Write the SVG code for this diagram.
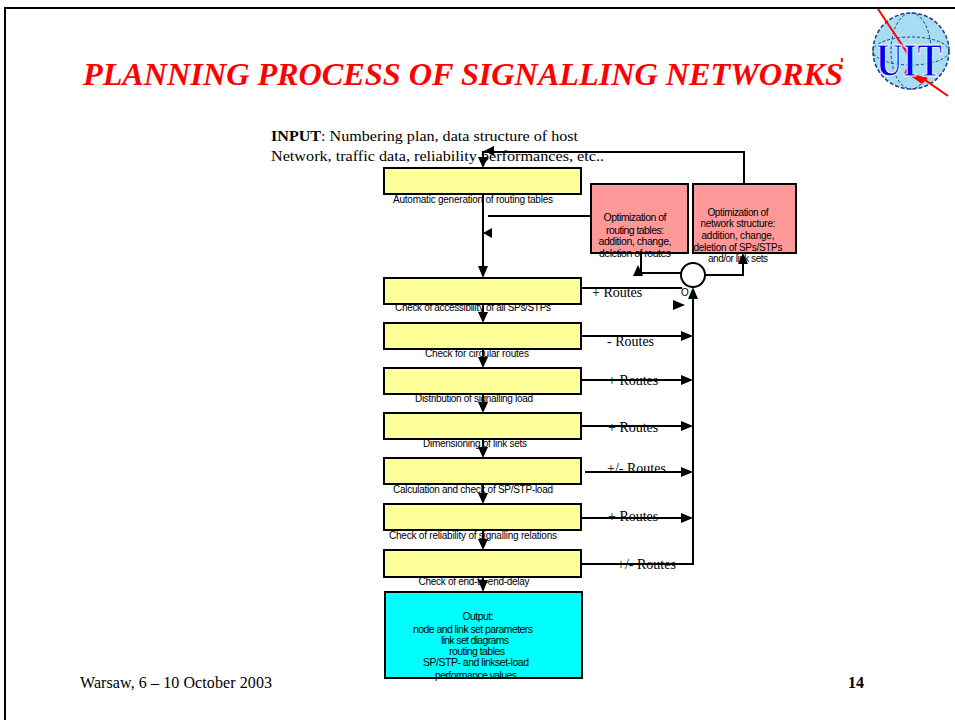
<svg xmlns="http://www.w3.org/2000/svg" width="955" height="720" viewBox="0 0 955 720">
<style>
.box{stroke:#000;stroke-width:2}
.y{fill:#ffff99}
.p{fill:#ff9999}
.c{fill:#00ffff}
.lbl{font-family:"Liberation Sans",Arial,sans-serif;font-size:10px;fill:#000;text-anchor:middle}
.bt{font-family:"Liberation Sans",Arial,sans-serif;font-size:10.5px;fill:#000;text-anchor:middle}
.bs{font-family:"Liberation Sans",Arial,sans-serif;font-size:10px;fill:#000;text-anchor:middle}
.rt{font-family:"Liberation Serif","Times New Roman",serif;font-size:14px;fill:#000}
.ln{fill:none;stroke:#000;stroke-width:2}
.ah{fill:#000}
</style>
<rect x="0" y="0" width="955" height="720" fill="#fff"/>
<path d="M5,720 V8 H955" fill="none" stroke="#000" stroke-width="2"/>
<text x="83" y="85" font-family="'Liberation Serif','Times New Roman',serif" font-size="32" font-weight="bold" font-style="italic" fill="#ff0000" textLength="760" lengthAdjust="spacingAndGlyphs">PLANNING PROCESS OF SIGNALLING NETWORKS</text>
<g id="logo">
<circle cx="911" cy="51" r="38" fill="#a8dcf0" stroke="#1a3a8a" stroke-width="1.5" stroke-dasharray="4 2"/>
<ellipse cx="911" cy="51" rx="20" ry="38" fill="none" stroke="#1a3a8a" stroke-width="1" stroke-dasharray="3 2"/>
<ellipse cx="911" cy="51" rx="38" ry="14" fill="none" stroke="#1a3a8a" stroke-width="1" stroke-dasharray="3 2"/>
<path d="M878,9 L912,60 L905,74 L925,80 L948,96" fill="none" stroke="#ff0000" stroke-width="2"/>
<polygon points="905,72 928,78 922,84" fill="#ff0000"/>
<text x="876" y="76" font-family="'Liberation Serif','Times New Roman',serif" font-size="46" font-weight="bold" fill="#0000ee" stroke="#fff" stroke-width="1" textLength="66" lengthAdjust="spacingAndGlyphs">UIT</text>
<line x1="842" y1="58" x2="841" y2="72" stroke="#ff0000" stroke-width="2" stroke-dasharray="4 3"/>
</g>
<g id="input">
<text x="271" y="141" font-family="'Liberation Serif','Times New Roman',serif" font-size="15.5" fill="#000" textLength="307" lengthAdjust="spacingAndGlyphs"><tspan font-weight="bold">INPUT</tspan>: Numbering plan, data structure of host</text>
<text x="271" y="161" font-family="'Liberation Serif','Times New Roman',serif" font-size="15.5" fill="#000" textLength="333" lengthAdjust="spacingAndGlyphs">Network, traffic data, reliability performances, etc..</text>
</g>
<g id="connectors">
<path class="ln" d="M744,184 V152 H483 V160"/>
<polygon class="ah" points="484,151 494,146 494,156"/>
<polygon class="ah" points="483,168 478,157 488,157"/>
<path class="ln" d="M591,216 H488"/>
<polygon class="ah" points="483,233 492,228 492,238"/>
<path class="ln" d="M483,194 V268"/><polygon class="ah" points="483,278 478,266 488,266"/>
<path class="ln" d="M483,304 V313"/><polygon class="ah" points="483,323 478,312 488,312"/>
<path class="ln" d="M483,349 V358"/><polygon class="ah" points="483,368 478,357 488,357"/>
<path class="ln" d="M483,394 V403"/><polygon class="ah" points="483,413 478,402 488,402"/>
<path class="ln" d="M483,439 V448"/><polygon class="ah" points="483,458 478,447 488,447"/>
<path class="ln" d="M483,484 V494"/><polygon class="ah" points="483,504 478,493 488,493"/>
<path class="ln" d="M483,530 V540"/><polygon class="ah" points="483,550 478,539 488,539"/>
<path class="ln" d="M483,577 V582"/><polygon class="ah" points="483,592 478,580 488,580"/>
<path class="ln" d="M581,288 H682"/>
<polygon class="ah" points="685,305 673,300 673,310"/>
<path class="ln" d="M581,336 H683"/><polygon class="ah" points="693,336 681,331 681,341"/>
<path class="ln" d="M581,380 H683"/><polygon class="ah" points="693,380 681,375 681,385"/>
<path class="ln" d="M581,426 H683"/><polygon class="ah" points="693,426 681,421 681,431"/>
<path class="ln" d="M585,472 H683"/><polygon class="ah" points="693,472 681,467 681,477"/>
<path class="ln" d="M581,518 H683"/><polygon class="ah" points="693,518 681,513 681,523"/>
<path class="ln" d="M581,564 H693 V298"/>
<polygon class="ah" points="693,287 688,299 698,299"/>
<path class="ln" d="M681,273 H641 V253"/>
<polygon class="ah" points="638,265 633,276 643,276"/>
<path class="ln" d="M705,275 H743 V262"/>
<polygon class="ah" points="743,253 738,264 748,264"/>
</g>
<g id="n1"><rect class="box y" x="384" y="168" width="197" height="26"/><text class="lbl" x="473" y="203" textLength="160">Automatic generation of routing tables</text></g>
<g id="n2"><rect class="box y" x="384" y="278" width="197" height="26"/><text class="lbl" x="473" y="311" textLength="156">Check of accessibility of all SPs/STPs</text></g>
<g id="n3"><rect class="box y" x="384" y="323" width="197" height="26"/><text class="lbl" x="477" y="357" textLength="104">Check for circular routes</text></g>
<g id="n4"><rect class="box y" x="384" y="368" width="197" height="26"/><text class="lbl" x="474" y="402" textLength="118">Distribution of signalling load</text></g>
<g id="n5"><rect class="box y" x="384" y="413" width="197" height="26"/><text class="lbl" x="475" y="447" textLength="104">Dimensioning of link sets</text></g>
<g id="n6"><rect class="box y" x="384" y="458" width="197" height="26"/><text class="lbl" x="473" y="493" textLength="160">Calculation and check of SP/STP-load</text></g>
<g id="n7"><rect class="box y" x="384" y="504" width="197" height="26"/><text class="lbl" x="473" y="539" textLength="168">Check of reliability of signalling relations</text></g>
<g id="n8"><rect class="box y" x="384" y="550" width="197" height="27"/><text class="lbl" x="474" y="585" textLength="111">Check of end-to-end-delay</text></g>
<g id="output">
<rect class="box c" x="385" y="592" width="197" height="86"/>
<text class="bt" x="478" y="620" textLength="31">Output:</text>
<text class="bt" x="473" y="633" textLength="120">node and link set parameters</text>
<text class="bt" x="475" y="644" textLength="68">link set diagrams</text>
<text class="bt" x="477" y="655" textLength="56">routing tables</text>
<text class="bt" x="476" y="666" textLength="106">SP/STP- and linkset-load</text>
<text class="bt" x="476" y="679" textLength="82">performance values</text>
</g>
<g id="optA">
<rect class="box p" x="591" y="184" width="97" height="69"/>
<text class="bt" x="635" y="221" textLength="63">Optimization of</text>
<text class="bt" x="635" y="234" textLength="58">routing tables:</text>
<text class="bt" x="635" y="245" textLength="73">addition, change,</text>
<text class="bt" x="635" y="257" textLength="72">deletion of routes</text>
</g>
<g id="optB">
<rect class="box p" x="693" y="184" width="103" height="69"/>
<text class="bs" x="738" y="216" textLength="61">Optimization of</text>
<text class="bs" x="738" y="227" textLength="75">network structure:</text>
<text class="bs" x="738" y="239" textLength="73">addition, change,</text>
<text class="bs" x="738" y="251" textLength="89">deletion of SPs/STPs</text>
<text class="bs" x="738" y="262" textLength="60">and/or link sets</text>
</g>
<g id="circle"><circle cx="693" cy="275" r="12" fill="#fff" stroke="#000" stroke-width="2"/><text class="lbl" x="685" y="296">O</text></g>
<g id="routes">
<text class="rt" x="592" y="297">+ Routes</text>
<text class="rt" x="607" y="346">- Routes</text>
<text class="rt" x="608" y="385">+ Routes</text>
<text class="rt" x="608" y="432">+ Routes</text>
<text class="rt" x="607" y="473">+/- Routes</text>
<text class="rt" x="608" y="521">+ Routes</text>
<text class="rt" x="617" y="569">+/- Routes</text>
</g>
<g id="footer">
<text x="80" y="688" font-family="'Liberation Serif','Times New Roman',serif" font-size="16" fill="#000" textLength="192">Warsaw, 6 – 10 October 2003</text>
<text x="848" y="688" font-family="'Liberation Serif','Times New Roman',serif" font-size="16" font-weight="bold" fill="#000">14</text>
</g>
</svg>
